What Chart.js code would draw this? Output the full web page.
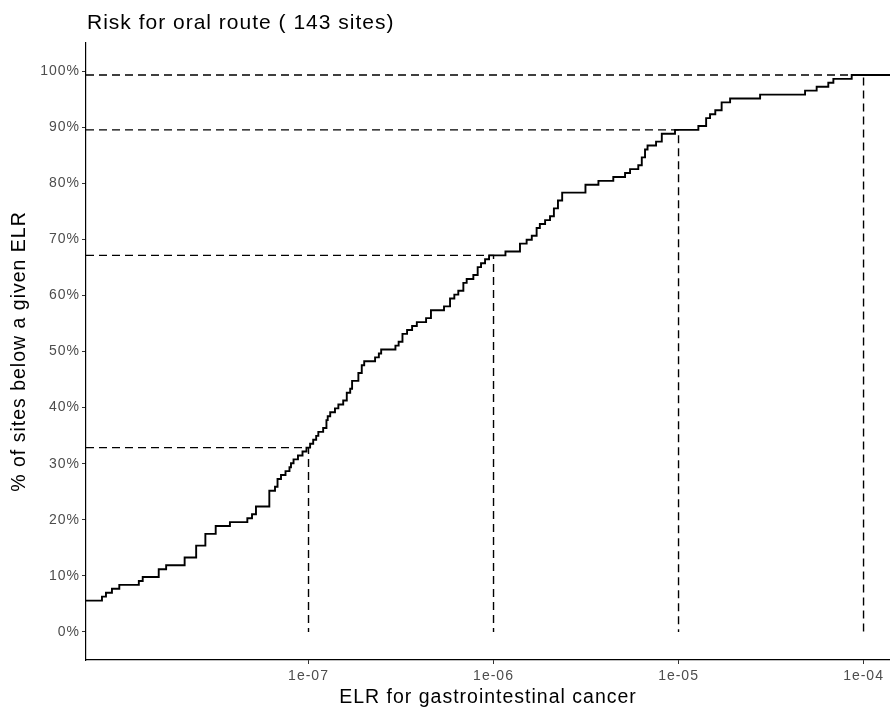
<!DOCTYPE html>
<html>
<head>
<meta charset="utf-8">
<title>Risk for oral route</title>
<script src="https://cdn.jsdelivr.net/npm/chart.js@4.4.1/dist/chart.umd.min.js"></script>
<style>
    html, body { margin: 0; padding: 0; background: #fff; }
    #wrap { width: 890px; height: 711px; }
</style>
</head>
<body>
<div id="wrap"><canvas id="chartRisk" width="890" height="711"></canvas></div>
<script>
// ELR per site (distinct values, ascending) and how many sites share each value.
// The first entry holds the sites that fall below the plotted range.
const nSites = 143;
const elrValues = [
    5e-9, 7.65e-9, 8.04e-9, 8.66e-9, 9.49e-9, 1.21e-8, 1.27e-8, 1.55e-8, 1.70e-8, 2.14e-8,
    2.47e-8, 2.77e-8, 3.15e-8, 3.76e-8, 4.67e-8, 4.95e-8, 5.20e-8, 6.14e-8, 6.59e-8, 6.80e-8,
    7.10e-8, 7.51e-8, 7.89e-8, 8.04e-8, 8.30e-8, 8.77e-8, 9.28e-8, 9.75e-8, 1.02e-7, 1.06e-7,
    1.10e-7, 1.13e-7, 1.20e-7, 1.25e-7, 1.27e-7, 1.31e-7, 1.39e-7, 1.45e-7, 1.54e-7, 1.61e-7,
    1.68e-7, 1.72e-7, 1.86e-7, 1.94e-7, 2.00e-7, 2.29e-7, 2.40e-7, 2.47e-7, 2.95e-7, 3.07e-7,
    3.22e-7, 3.41e-7, 3.63e-7, 3.85e-7, 4.32e-7, 4.59e-7, 5.40e-7, 5.82e-7, 6.14e-7, 6.45e-7,
    6.87e-7, 7.16e-7, 7.78e-7, 8.21e-7, 8.56e-7, 9.00e-7, 9.46e-7, 1.16e-6, 1.39e-6, 1.51e-6,
    1.61e-6, 1.71e-6, 1.78e-6, 1.90e-6, 2.02e-6, 2.12e-6, 2.23e-6, 2.35e-6, 3.14e-6, 3.69e-6,
    4.44e-6, 5.14e-6, 5.47e-6, 6.06e-6, 6.33e-6, 6.59e-6, 6.80e-6, 7.56e-6, 8.12e-6, 9.57e-6,
    1.28e-5, 1.41e-5, 1.48e-5, 1.58e-5, 1.71e-5, 1.90e-5, 2.76e-5, 4.83e-5, 5.58e-5, 6.45e-5,
    6.87e-5, 8.63e-5
];
const sitesAtValue = [
    8, 1, 1, 1, 1, 1, 1, 2, 1, 2,
    3, 3, 2, 1, 1, 1, 2, 4, 1, 2,
    1, 1, 1, 1, 1, 1, 1, 1, 1, 1,
    1, 1, 1, 2, 1, 1, 1, 1, 1, 2,
    1, 2, 2, 2, 1, 1, 1, 1, 1, 1,
    2, 1, 1, 1, 1, 2, 1, 2, 1, 1,
    2, 1, 1, 2, 1, 1, 1, 1, 2, 1,
    1, 2, 1, 1, 1, 2, 2, 2, 2, 1,
    1, 1, 1, 1, 2, 2, 1, 1, 2, 1,
    1, 2, 1, 1, 2, 1, 1, 1, 1, 1,
    1, 1
];

const guideElr = [1e-7, 1e-6, 1e-5, 1e-4];
const xTickValues = [1e-7, 1e-6, 1e-5, 1e-4];
const xTickLabels = ['1e-07', '1e-06', '1e-05', '1e-04'];
const yTickValues = [0, 10, 20, 30, 40, 50, 60, 70, 80, 90, 100];
const xLimits = [6.27e-9, 1.39e-4];
const yLimits = [-5, 105];

const chartTitle = 'Risk for oral route ( ' + nSites + ' sites)';
const xTitle = 'ELR for gastrointestinal cancer';
const yTitle = '% of sites below a given ELR';

const fontFamily = '"Liberation Sans", Arial, sans-serif';
const textSpacing = '1px';

// cumulative share of sites at or below each ELR value
const ecdfPoints = () => {
    let acumulado = 0;
    const pontos = elrValues.map((elr, i) => {
        acumulado += sitesAtValue[i];
        return { x: elr, y: acumulado / nSites * 100 };
    });
    pontos.push({ x: xLimits[1], y: acumulado / nSites * 100 });
    return pontos;
};

const ecdfAt = (valor) => {
    let total = 0;
    elrValues.forEach((elr, i) => {
        if (elr <= valor) total += sitesAtValue[i];
    });
    return total / nSites * 100;
};

// dashed L from the y axis to the curve and down to 0%
const guideDatasets = guideElr.map((q) => {
    const nivel = ecdfAt(q);
    return {
        data: [
            { x: xLimits[0], y: nivel },
            { x: q, y: nivel },
            { x: q, y: 0 }
        ],
        borderColor: '#000',
        borderWidth: 1.4,
        borderDash: [8, 5],
        pointRadius: 0,
        fill: false,
        tension: 0
    };
});

// the canvas state is reset on resize, so spacing is set again before layout and drawing
const spacingPlugin = {
    id: 'textSpacing',
    beforeUpdate(chart) {
        chart.ctx.letterSpacing = textSpacing;
    },
    beforeDraw(chart) {
        chart.ctx.letterSpacing = textSpacing;
    }
};

const titlePlugin = {
    id: 'leftTitle',
    afterDraw(chart) {
        const ctx = chart.ctx;
        ctx.save();
        ctx.letterSpacing = textSpacing;
        ctx.font = '21px ' + fontFamily;
        ctx.fillStyle = '#000';
        ctx.textAlign = 'left';
        ctx.textBaseline = 'alphabetic';
        ctx.fillText(chartTitle, chart.chartArea.left + 1, 29);
        ctx.restore();
    }
};

const ctxRisk = document.querySelector('#chartRisk');

new Chart(ctxRisk, {
    type: 'line',
    data: {
        datasets: [
            {
                data: ecdfPoints(),
                borderColor: '#000',
                borderWidth: 1.9,
                stepped: 'before',
                pointRadius: 0,
                fill: false
            },
            ...guideDatasets
        ]
    },
    options: {
        responsive: false,
        animation: false,
        devicePixelRatio: 1,
        layout: {
            padding: { top: 43, left: 0, right: 0, bottom: 0 }
        },
        plugins: {
            legend: { display: false },
            tooltip: { enabled: false }
        },
        scales: {
            x: {
                type: 'logarithmic',
                min: xLimits[0],
                max: xLimits[1],
                afterBuildTicks: (scale) => {
                    scale.ticks = xTickValues.map((v) => ({ value: v }));
                },
                afterFit: (scale) => {
                    scale.height = 51;
                },
                ticks: {
                    autoSkip: false,
                    maxRotation: 0,
                    padding: 4,
                    color: '#4d4d4d',
                    font: { family: fontFamily, size: 14 },
                    callback: (v, i) => xTickLabels[i]
                },
                grid: {
                    drawOnChartArea: false,
                    drawTicks: true,
                    tickLength: 4,
                    color: '#333'
                },
                border: { display: true, color: '#000', width: 1.2 },
                title: {
                    display: true,
                    text: xTitle,
                    color: '#000',
                    font: { family: fontFamily, size: 19.5 },
                    padding: { top: 0, bottom: 2 }
                }
            },
            y: {
                min: yLimits[0],
                max: yLimits[1],
                afterBuildTicks: (scale) => {
                    scale.ticks = yTickValues.map((v) => ({ value: v }));
                },
                afterFit: (scale) => {
                    scale.width = 86;
                },
                ticks: {
                    padding: 2,
                    color: '#4d4d4d',
                    font: { family: fontFamily, size: 14 },
                    callback: (v) => v + '%'
                },
                grid: {
                    drawOnChartArea: false,
                    drawTicks: true,
                    tickLength: 4,
                    color: '#333'
                },
                border: { display: true, color: '#000', width: 1.2 },
                title: {
                    display: true,
                    text: yTitle,
                    color: '#000',
                    font: { family: fontFamily, size: 19.5 },
                    padding: { top: 8, bottom: 0 }
                }
            }
        }
    },
    plugins: [spacingPlugin, titlePlugin]
});
</script>
</body>
</html>
